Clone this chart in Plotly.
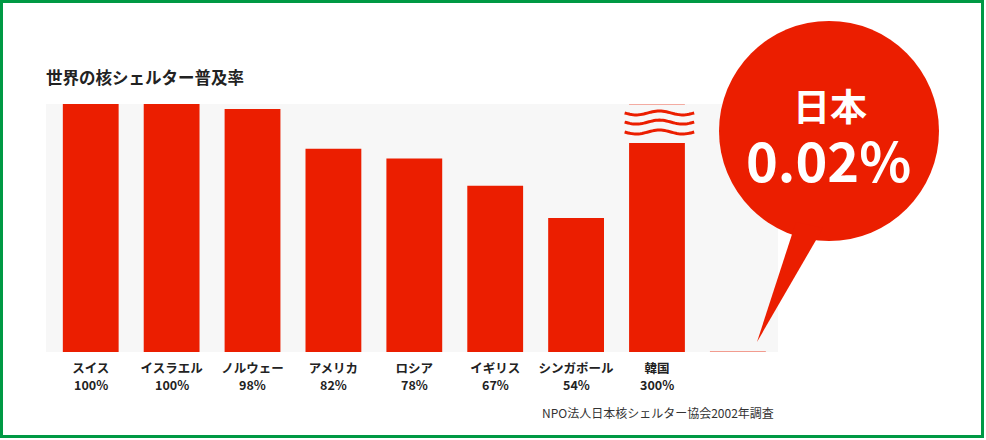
import math
import plotly.graph_objects as go

# ---- data ----
countries = ["スイス", "イスラエル", "ノルウェー", "アメリカ", "ロシア", "イギリス", "シンガポール", "韓国", "日本"]
rates = [100, 100, 98, 82, 78, 67, 54, 300, 0.02]
rate_labels = ["100%", "100%", "98%", "82%", "78%", "67%", "54%", "300%", ""]
korea_shown = 84.3   # visual height where Korea's bar is "broken"
title_text = "世界の核シェルター普及率"
source_text = "NPO法人日本核シェルター協会2002年調査"
bubble_country = "日本"
bubble_value = "0.02%"

W, H = 986, 440
L, R, T, B = 46, 778, 104, 352  # plot area in pixels
RED = "#eb1e00"
BG = "#f7f7f7"
FONT = "Noto Sans CJK JP"

def px(x):
    return (x - L) / (R - L)

def py(y):
    return (B - y) / (B - T)

ticktext = [f"<b>{c}</b>" if v else "" for c, v in zip(countries, rate_labels)]

line_colors = [RED] * len(countries)
line_widths = [0] * len(countries)
line_colors[-1] = "rgba(235,30,0,0.45)"
line_widths[-1] = 1

fig = go.Figure(go.Bar(
    x=countries, y=rates, width=0.69,
    marker=dict(color=RED, line=dict(color=line_colors, width=line_widths)),
    hoverinfo="skip",
))

shapes = []
# green frame
shapes.append(dict(type="rect", xref="paper", yref="paper",
                   x0=px(1.5), x1=px(W - 3.5), y0=py(1.5), y1=py(H - 3.5),
                   line=dict(color="#009944", width=3), fillcolor="rgba(0,0,0,0)", layer="below"))
# Korea break: cover part of the bar
ki = countries.index("韓国")
shapes.append(dict(type="rect", xref="x", yref="y", x0=ki - 0.36, x1=ki + 0.36,
                   y0=korea_shown, y1=100.5, fillcolor=BG, line=dict(width=0)))
shapes.append(dict(type="line", xref="x", yref="y", x0=ki - 0.345, x1=ki + 0.345,
                   y0=99.8, y1=99.8, line=dict(color="rgba(235,30,0,0.35)", width=1)))
# wavy lines
for yc in [96.4, 92.7, 88.7]:
    pts = []
    n = 40
    for j in range(n + 1):
        t = j / n
        xx = ki - 0.40 + 0.86 * t
        yy = yc - 0.8 * math.sin(2 * math.pi * 1.5 * t)
        pts.append(f"{xx:.4f},{yy:.4f}")
    path = "M" + " L".join(pts)
    shapes.append(dict(type="path", xref="x", yref="y", path=path,
                       line=dict(color=RED, width=3), fillcolor="rgba(0,0,0,0)"))
# speech bubble
cx, cy, r = 829, 131, 110
shapes.append(dict(type="circle", xref="paper", yref="paper",
                   x0=px(cx - r), x1=px(cx + r), y0=py(cy + r), y1=py(cy - r),
                   fillcolor=RED, line=dict(width=0)))
tail = [(796, 222), (757, 342), (823, 228)]
path = "M{:.4f},{:.4f} L{:.4f},{:.4f} L{:.4f},{:.4f} Z".format(
    px(tail[0][0]), py(tail[0][1]), px(tail[1][0]), py(tail[1][1]), px(tail[2][0]), py(tail[2][1]))
shapes.append(dict(type="path", xref="paper", yref="paper", path=path,
                   fillcolor=RED, line=dict(width=0)))

annotations = [
    dict(text=f"<b>{title_text}</b>", xref="paper", yref="paper", x=px(44), y=py(77),
         xanchor="left", yanchor="middle", showarrow=False,
         font=dict(family=FONT, size=16.5, color="#222222")),
    dict(text=source_text, xref="paper", yref="paper", x=px(776), y=py(412),
         xanchor="right", yanchor="middle", showarrow=False,
         font=dict(family=FONT, size=12, color="#333333")),
    dict(text=f"<b>{bubble_country}</b>", xref="paper", yref="paper", x=px(830), y=py(105),
         xanchor="center", yanchor="middle", showarrow=False,
         font=dict(family=FONT, size=37, color="white")),
    dict(text=f"<b>{bubble_value}</b>", xref="paper", yref="paper", x=px(828), y=py(158),
         xanchor="center", yanchor="middle", showarrow=False,
         font=dict(family=FONT, size=54, color="white")),
]
for i, lab in enumerate(rate_labels):
    if lab:
        annotations.append(dict(text=f"<b>{lab}</b>", xref="x", yref="paper", x=i, y=py(384),
                                xanchor="center", yanchor="middle", showarrow=False,
                                font=dict(family=FONT, size=12.5, color="#222222")))

fig.update_layout(
    width=W, height=H,
    margin=dict(l=L, r=W - R, t=T, b=H - B, pad=0),
    paper_bgcolor="white", plot_bgcolor=BG,
    showlegend=False, bargap=0.3,
    shapes=shapes, annotations=annotations,
    xaxis=dict(range=[-0.553, 8.496], tickmode="array", tickvals=countries, ticktext=ticktext,
               showgrid=False, zeroline=False, showline=False, ticks="", ticklabelstandoff=7,
               tickfont=dict(family=FONT, size=12.5, color="#222222")),
    yaxis=dict(range=[0, 100], visible=False, showgrid=False, zeroline=False, fixedrange=True),
    font=dict(family=FONT),
)
fig.write_html("out.html", config={"displayModeBar": False})
